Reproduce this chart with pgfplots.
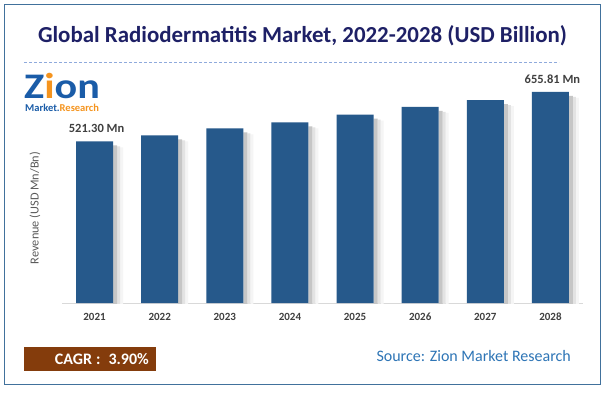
\documentclass[border=0pt]{standalone}
\usepackage{pgfplots}
\pgfplotsset{compat=1.18}
\usepackage{pgfplotstable}
\usepackage{fontspec}
\setmainfont{Carlito}
\definecolor{barblue}{RGB}{38,89,139}
\definecolor{titleblue}{RGB}{30,32,102}
\definecolor{framecol}{RGB}{65,113,156}
\definecolor{dashcol}{RGB}{143,170,220}
\definecolor{cagrbrown}{RGB}{132,60,12}
\definecolor{srcblue}{RGB}{46,117,182}
\definecolor{lblgray}{RGB}{64,64,64}
\definecolor{ylgray}{RGB}{89,89,89}
\definecolor{logoblue}{RGB}{26,92,168}
\definecolor{logoorange}{RGB}{245,148,30}
\pgfplotstableread{
x v lab
0 520.5 {521.30 Mn}
1 536.9 {}
2 556.1 {}
3 572.6 {}
4 593.5 {}
5 614.6 {}
6 633.8 {}
7 655.8 {655.81 Mn}
}\datatable
\begin{document}
\begin{tikzpicture}[x=1pt,y=1pt]
\useasboundingbox (0,0) rectangle (607,392);
\fill[white] (0,0) rectangle (607,392);
\draw[framecol, line width=1.2pt] (4.5,7.5) rectangle (600.5,387.5);
\node[anchor=base, text=titleblue, font=\bfseries\fontsize{22.9}{27}\selectfont, inner sep=0pt] at (302.5,349) {Global Radiodermatitis Market, 2022-2028 (USD Billion)};
\draw[dashcol, line width=0.9pt, dash pattern=on 3pt off 2pt] (24,330) -- (559,330);
% logo
\node[anchor=north west, inner sep=0pt, align=left, font=\bfseries\fontsize{10.5}{13}\selectfont] at (24,319) {{\fontsize{36}{36}\selectfont\textcolor{logoblue}{\scalebox{1.17}[1]{Z\textcolor{logoorange}{i}on}}}\\\hspace{1pt}\textcolor{logoblue}{Market.}\textcolor{logoorange}{Research}};
\begin{axis}[
  at={(62pt,89pt)}, anchor=south west,
  scale only axis, width=521pt, height=250pt,
  xmin=-0.5, xmax=7.5, ymin=76.6, ymax=762.8,
  axis x line=bottom, axis y line=none,
  x axis line style={draw=gray!30, line width=0.8pt, -},
  xtick={0,...,7}, xticklabels={2021,2022,2023,2024,2025,2026,2027,2028},
  major tick length=0pt,
  xticklabel style={font=\bfseries\fontsize{11}{13}\selectfont, text=lblgray, yshift=-6pt, text height=7.5pt, text depth=0pt},
  ybar, bar width=37pt,
  clip=true,
]
\addplot[draw=none, fill=gray!8, bar shift=27pt, bar width=3pt, yshift=-6pt] table[x=x,y=v] {\datatable};
\addplot[draw=none, fill=gray!22, bar shift=24pt, bar width=3pt, yshift=-5pt] table[x=x,y=v] {\datatable};
\addplot[draw=none, fill=gray!45, bar shift=20.5pt, bar width=4pt, yshift=-4pt] table[x=x,y=v] {\datatable};
\addplot[draw=none, fill=barblue, bar shift=0pt,
  nodes near coords, point meta=explicit symbolic,
  every node near coord/.append style={font=\bfseries\fontsize{12.5}{14}\selectfont, text=lblgray, yshift=5pt, xshift=2pt, anchor=south}
] table[x=x,y=v,meta=lab] {\datatable};
\end{axis}
\node[rotate=90, text=ylgray, font=\fontsize{12.3}{14}\selectfont] at (35,184) {Revenue (USD Mn/Bn)};
\fill[cagrbrown] (24,21) rectangle (156,45);
\node[anchor=east, text=white, font=\bfseries\fontsize{16}{18}\selectfont, inner sep=0pt] at (149,33) {CAGR\hspace{4pt}:\hspace{8pt}3.90\%};
\node[anchor=east, text=srcblue, font=\fontsize{16}{19}\selectfont, inner sep=0pt] at (571,36) {Source: Zion Market Research};
\end{tikzpicture}
\end{document}
